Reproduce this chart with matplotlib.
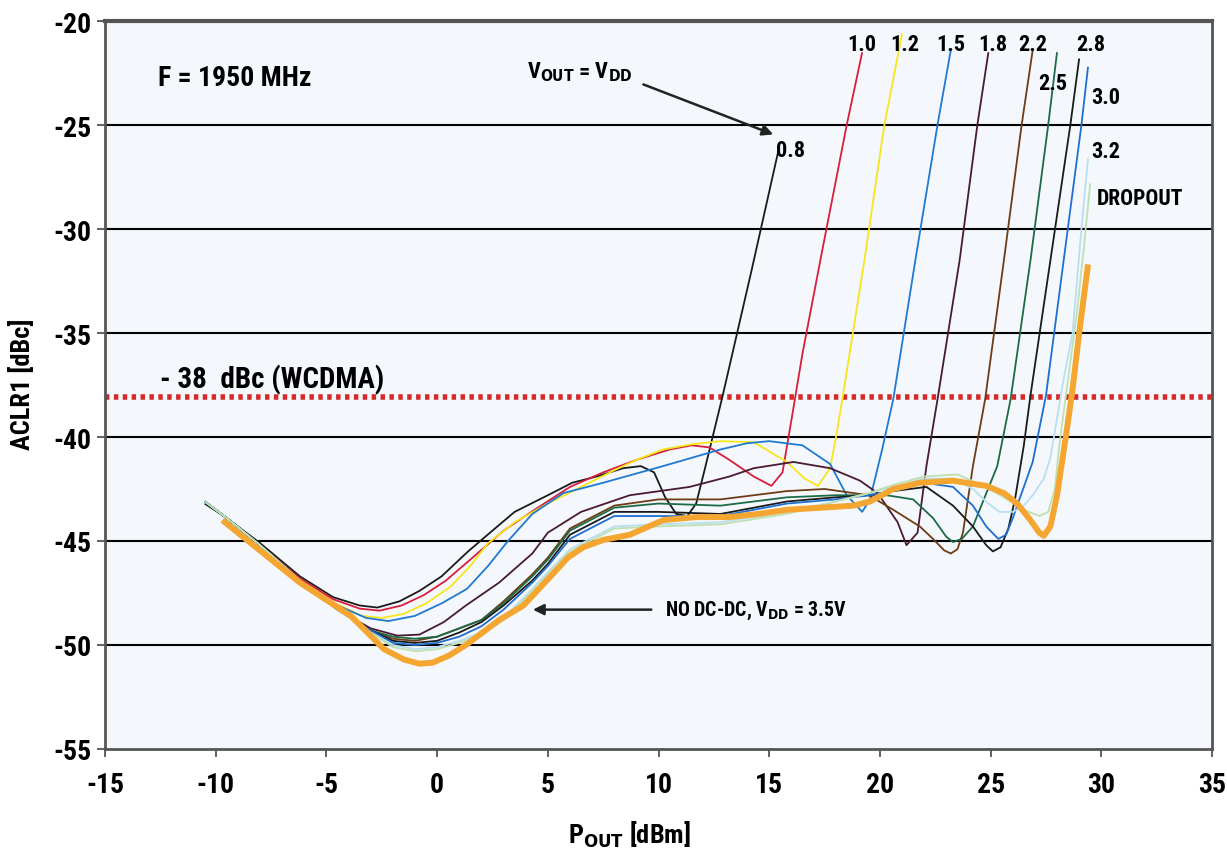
import matplotlib
matplotlib.use("Agg")
import matplotlib.pyplot as plt

plt.rcParams['font.family'] = ['Roboto Condensed', 'DejaVu Sans Condensed', 'DejaVu Sans']
plt.rcParams['font.stretch'] = 'condensed'
plt.rcParams['font.weight'] = 'bold'
plt.rcParams['axes.unicode_minus'] = False
plt.rcParams['mathtext.fontset'] = 'custom'
plt.rcParams['mathtext.rm'] = 'DejaVu Sans:weight=bold:stretch=condensed'
plt.rcParams['mathtext.it'] = 'DejaVu Sans:weight=bold:stretch=condensed'
plt.rcParams['mathtext.bf'] = 'DejaVu Sans:weight=bold:stretch=condensed'

# ---------------------------------------------------------------
# Daten: P_OUT [dBm] / ACLR1 [dBc]
# ---------------------------------------------------------------
x_08 = [-10.5, -9.5, -8.0, -6.2, -4.7, -3.5, -2.7, -1.7, -0.8, 0.2, 1.4, 2.5, 3.5, 5.0, 6.1, 7.2, 8.4, 9.2, 9.8, 10.3, 10.8, 11.3, 11.7, 12.1, 12.9, 14.2, 15.4]
y_08 = [-43.2, -43.9, -45.1, -46.7, -47.7, -48.1, -48.2, -47.9, -47.4, -46.7, -45.5, -44.5, -43.6, -42.8, -42.2, -41.9, -41.5, -41.4, -41.7, -42.9, -43.7, -43.8, -43.2, -41.5, -38.0, -32.0, -26.3]

x_10 = [-10.5, -9.5, -8.0, -6.2, -4.7, -3.5, -2.6, -1.6, -0.6, 0.4, 1.6, 3.0, 4.4, 6.0, 7.5, 9.0, 10.5, 11.5, 12.3, 13.2, 14.3, 15.1, 15.6, 16.0, 16.5, 17.4, 18.5, 19.2]
y_10 = [-43.1, -43.9, -45.2, -46.8, -47.8, -48.25, -48.35, -48.1, -47.6, -46.9, -45.8, -44.5, -43.5, -42.4, -41.7, -41.1, -40.6, -40.4, -40.5, -41.1, -41.9, -42.35, -41.7, -39.2, -36.0, -31.0, -25.0, -21.5]

x_12 = [-10.5, -9.5, -8.0, -6.2, -4.6, -3.4, -2.5, -1.5, -0.5, 0.6, 1.5, 2.3, 3.5, 5.0, 6.5, 8.0, 9.0, 10.2, 11.5, 12.8, 14.3, 15.8, 16.6, 17.2, 17.75, 18.05, 18.3, 19.3, 20.2, 21.0]
y_12 = [-43.1, -43.9, -45.2, -46.9, -48.0, -48.6, -48.7, -48.5, -48.0, -47.2, -46.2, -45.1, -44.1, -43.2, -42.4, -41.6, -41.1, -40.6, -40.35, -40.2, -40.25, -41.2, -42.0, -42.35, -41.5, -39.8, -38.2, -31.5, -25.0, -20.6]

x_15 = [-10.5, -9.5, -8.0, -6.2, -4.5, -3.2, -2.2, -1.0, 0.2, 1.35, 2.3, 3.2, 4.3, 5.7, 7.5, 10.2, 12.8, 14.0, 15.0, 16.5, 17.75, 18.5, 19.2, 19.55, 20.1, 20.6, 21.6, 22.6, 23.2]
y_15 = [-43.1, -43.9, -45.2, -46.9, -48.1, -48.7, -48.85, -48.6, -48.0, -47.3, -46.2, -45.0, -43.7, -42.7, -42.2, -41.4, -40.6, -40.3, -40.2, -40.4, -41.3, -42.8, -43.6, -43.0, -40.6, -38.2, -31.5, -25.0, -21.4]

x_18 = [-10.5, -9.5, -8.0, -6.2, -4.5, -3.0, -1.8, -0.8, 0.3, 1.3, 2.8, 4.3, 5.0, 6.5, 8.7, 11.4, 13.2, 14.3, 16.1, 17.75, 19.1, 19.9, 20.8, 21.2, 21.7, 22.1, 22.6, 23.6, 24.4, 24.9]
y_18 = [-43.1, -43.9, -45.2, -46.9, -48.3, -49.2, -49.55, -49.5, -48.9, -48.1, -47.0, -45.6, -44.6, -43.6, -42.8, -42.4, -41.9, -41.5, -41.2, -41.5, -42.1, -42.7, -44.1, -45.2, -44.6, -41.4, -38.2, -31.5, -25.0, -21.5]

x_22 = [-10.5, -9.5, -8.0, -6.2, -4.5, -3.0, -2.0, -1.0, 0.0, 1.0, 2.0, 3.0, 4.3, 5.0, 6.0, 8.0, 10.0, 12.8, 15.8, 17.5, 19.5, 20.6, 21.8, 22.4, 22.9, 23.2, 23.5, 23.75, 24.2, 24.75, 25.6, 26.4, 26.9]
y_22 = [-43.1, -43.9, -45.2, -46.9, -48.3, -49.3, -49.7, -49.8, -49.6, -49.2, -48.8, -47.9, -46.6, -45.8, -44.4, -43.3, -43.0, -43.0, -42.6, -42.5, -42.8, -43.5, -44.3, -44.9, -45.45, -45.6, -45.4, -44.6, -41.4, -38.2, -31.5, -25.0, -21.4]

x_25 = [-10.5, -9.5, -8.0, -6.2, -4.5, -3.0, -2.0, -1.0, 0.0, 1.0, 2.0, 3.0, 4.3, 5.0, 6.0, 8.0, 10.0, 12.8, 15.8, 18.0, 19.5, 20.3, 21.5, 22.4, 23.0, 23.3, 23.7, 24.2, 25.3, 25.9, 26.8, 27.6, 28.0]
y_25 = [-43.1, -43.9, -45.2, -46.9, -48.3, -49.3, -49.6, -49.7, -49.6, -49.2, -48.8, -48.0, -46.7, -45.9, -44.5, -43.4, -43.2, -43.3, -42.9, -42.8, -42.8, -42.8, -43.0, -43.9, -44.8, -45.05, -44.9, -44.3, -41.4, -38.2, -31.5, -25.0, -21.5]

x_28 = [-10.5, -9.5, -8.0, -6.2, -4.5, -3.0, -2.0, -1.0, 0.0, 1.0, 2.0, 3.0, 4.3, 5.0, 6.0, 8.0, 10.0, 12.8, 15.8, 18.0, 19.5, 20.6, 22.1, 23.3, 24.2, 24.8, 25.1, 25.45, 25.8, 26.1, 26.5, 26.8, 27.7, 28.6, 29.0]
y_28 = [-43.1, -43.9, -45.2, -46.9, -48.3, -49.3, -49.8, -49.9, -49.8, -49.4, -48.9, -48.1, -46.9, -46.1, -44.7, -43.6, -43.6, -43.7, -43.1, -42.9, -42.8, -42.6, -42.4, -43.3, -44.3, -45.2, -45.5, -45.3, -44.4, -43.0, -40.4, -38.0, -31.5, -25.0, -21.8]

x_30 = [-10.5, -9.5, -8.0, -6.2, -4.5, -3.0, -2.0, -1.0, 0.0, 1.0, 2.0, 3.0, 4.3, 5.0, 6.0, 8.0, 10.0, 12.8, 15.8, 18.0, 19.5, 20.6, 22.0, 23.3, 24.2, 24.8, 25.35, 25.7, 26.0, 26.9, 27.5, 28.3, 29.1, 29.4]
y_30 = [-43.1, -43.9, -45.2, -46.9, -48.3, -49.3, -49.9, -50.0, -49.9, -49.6, -49.1, -48.3, -47.0, -46.2, -44.9, -43.8, -43.8, -43.8, -43.2, -43.0, -42.8, -42.6, -42.2, -42.4, -43.3, -44.3, -44.9, -44.7, -43.9, -41.2, -38.0, -31.5, -25.0, -22.2]

x_32 = [-10.5, -9.5, -8.0, -6.2, -4.5, -3.0, -2.0, -1.0, 0.0, 1.0, 2.0, 3.0, 4.3, 5.0, 6.0, 8.0, 10.0, 12.8, 15.8, 18.0, 19.5, 20.6, 22.0, 23.3, 24.2, 24.9, 25.4, 26.0, 26.5, 26.9, 27.4, 27.7, 28.0, 28.3, 28.7, 29.1, 29.4]
y_32 = [-43.1, -43.9, -45.2, -46.9, -48.3, -49.4, -50.0, -50.2, -50.1, -49.8, -49.4, -48.7, -47.3, -46.5, -45.4, -44.3, -44.2, -44.1, -43.6, -43.1, -42.7, -42.4, -42.0, -42.0, -42.5, -43.2, -43.6, -43.6, -43.3, -42.8, -42.0, -41.0, -39.1, -37.2, -35.0, -30.0, -26.6]

x_drop = [-10.5, -9.5, -8.0, -6.2, -4.5, -3.0, -2.0, -1.0, 0.0, 1.0, 2.0, 3.0, 4.3, 5.0, 6.0, 8.0, 10.0, 12.8, 15.8, 18.0, 19.5, 20.6, 22.0, 23.5, 24.8, 25.75, 26.5, 27.2, 27.6, 27.9, 28.1, 28.5, 28.9, 29.2, 29.5]
y_drop = [-43.1, -43.9, -45.2, -46.9, -48.3, -49.4, -50.1, -50.3, -50.2, -49.9, -49.5, -48.8, -47.4, -46.6, -45.5, -44.4, -44.3, -44.2, -43.7, -43.1, -42.7, -42.3, -41.9, -41.8, -42.4, -43.0, -43.5, -43.8, -43.6, -42.5, -40.4, -37.2, -34.0, -31.0, -27.8]

x_nodcdc = [-9.7, -8.3, -6.2, -3.9, -2.4, -1.5, -0.8, -0.2, 0.55, 1.3, 2.05, 2.8, 3.9, 4.6, 5.3, 5.9, 6.6, 7.5, 8.7, 10.2, 11.7, 13.2, 14.5, 15.8, 17.3, 18.8, 19.55, 20.6, 21.8, 23.3, 24.8, 25.6, 26.2, 26.8, 27.2, 27.4, 27.7, 28.0, 28.45, 28.7, 29.0, 29.4]
y_nodcdc = [-44.0, -45.2, -47.0, -48.6, -50.2, -50.7, -50.9, -50.85, -50.5, -50.0, -49.4, -48.8, -48.1, -47.3, -46.5, -45.8, -45.3, -44.95, -44.7, -44.0, -43.85, -43.85, -43.7, -43.5, -43.4, -43.3, -43.1, -42.5, -42.2, -42.1, -42.35, -42.7, -43.2, -44.0, -44.6, -44.75, -44.3, -42.8, -39.6, -37.7, -35.0, -31.7]

kurven = [
    (x_08, y_08, '#1a1a1a', 1.3),
    (x_10, y_10, '#d81e3c', 1.3),
    (x_12, y_12, '#f7e61a', 1.3),
    (x_15, y_15, '#1f7ad0', 1.3),
    (x_18, y_18, '#4a1a33', 1.3),
    (x_22, y_22, '#6e3c14', 1.3),
    (x_25, y_25, '#1d6b45', 1.3),
    (x_28, y_28, '#1a1a1a', 1.3),
    (x_30, y_30, '#1e6fd0', 1.3),
    (x_32, y_32, '#b9def2', 1.3),
    (x_drop, y_drop, '#bfe0b0', 1.3),
    (x_nodcdc, y_nodcdc, '#f4a631', 4.3),
]

fig = plt.figure(figsize=(12.27, 8.54), dpi=100, facecolor='white')
ax = fig.add_axes([0.0856, 0.1218, 0.9022, 0.8524])
ax.set_facecolor('#f4f8fc')

ax.set_xlim(-15, 35)
ax.set_ylim(-55, -20)
ax.set_xticks(range(-15, 36, 5))
ax.set_yticks(range(-55, -19, 5))
for yg in range(-50, -24, 5):
    ax.axhline(yg, color='black', lw=1.5, zorder=1)

ax.tick_params(axis='both', labelsize=20, length=6, width=1.2, color='#444444', direction='out')
for lab in ax.get_xticklabels() + ax.get_yticklabels():
    lab.set_fontweight('bold')
ax.tick_params(axis='x', pad=10)
for s in ax.spines.values():
    s.set_color('#555555')
    s.set_linewidth(2)
ax.spines['top'].set_linewidth(3)

# WCDMA-Grenze
ax.axhline(-38.1, color='#d42a2a', lw=4, ls=(0, (0.8, 0.8)), zorder=2)

for xs, ys, farbe, lw in kurven:
    ax.plot(xs, ys, color=farbe, lw=lw, zorder=3, solid_capstyle='butt', solid_joinstyle='round')

# Beschriftungen
ax.text(-12.6, -22.7, 'F = 1950 MHz', fontsize=20, fontweight='bold', va='center')
ax.text(-12.5, -37.2, '- 38  dBc (WCDMA)', fontsize=21, fontweight='bold', va='center')
ax.text(4.05, -22.4, r'V$_{\rm OUT}$ = V$_{\rm DD}$', fontsize=16, fontweight='bold', va='center')
ax.annotate('', xy=(15.3, -25.5), xytext=(9.2, -23.0),
            arrowprops=dict(arrowstyle='-|>', color='#222222', lw=1.8, mutation_scale=16))
ax.text(15.3, -26.2, '0.8', fontsize=16, fontweight='bold', va='center', ha='left')

oben = [('1.0', 19.2, -21.1), ('1.2', 21.1, -21.1), ('1.5', 23.2, -21.1), ('1.8', 25.1, -21.1),
        ('2.2', 26.9, -21.1), ('2.8', 29.5, -21.1), ('2.5', 27.8, -23.0), ('3.0', 30.2, -23.65),
        ('3.2', 30.2, -26.25)]
for txt, xt, yt in oben:
    ax.text(xt, yt, txt, fontsize=16, fontweight='bold', ha='center', va='center')
ax.text(29.8, -28.5, 'DROPOUT', fontsize=15.5, fontweight='bold', ha='left', va='center')

ax.annotate('', xy=(4.2, -48.3), xytext=(9.8, -48.3),
            arrowprops=dict(arrowstyle='-|>', color='#222222', lw=1.8, mutation_scale=16))
ax.text(10.3, -48.3, r'NO DC-DC, V$_{\rm DD}$ = 3.5V', fontsize=14.3, fontweight='bold', va='center')

fig.text(0.513, 0.022, r'P$_{\rm OUT}$ [dBm]', fontsize=19, fontweight='bold', ha='center', va='center')
fig.text(0.018, 0.55, 'ACLR1 [dBc]', fontsize=19, fontweight='bold', rotation=90, ha='center', va='center')

plt.savefig('out.png', dpi=100, facecolor='white')
